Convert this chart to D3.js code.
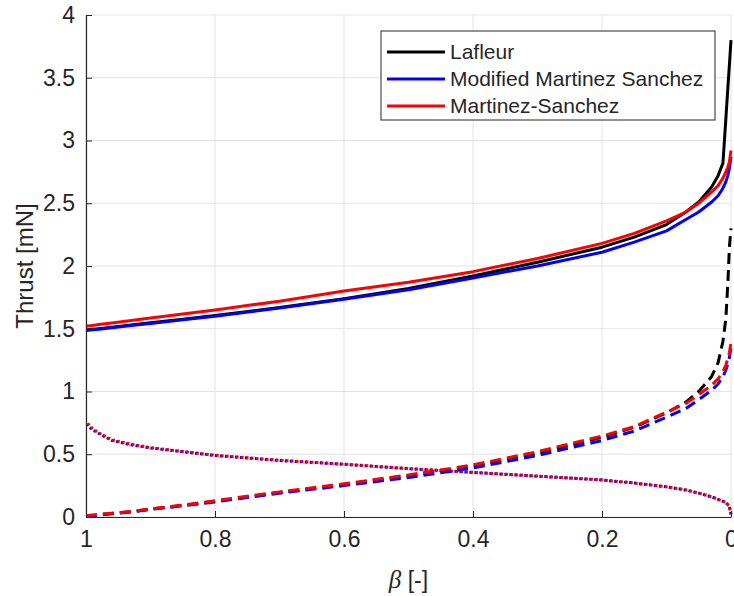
<!DOCTYPE html>
<html>
<head>
<meta charset="utf-8">
<script src="https://cdn.jsdelivr.net/npm/d3@7"></script>
<style>
  html, body { margin: 0; padding: 0; background: #fff; }
  svg { display: block; }
  text { font-family: "Liberation Sans", Arial, Helvetica, sans-serif; fill: #262626; }
</style>
</head>
<body>
<svg id="chart" width="734" height="596"></svg>
<script>
// ---- data ----
const beta = [1, 0.99, 0.98, 0.96, 0.93, 0.9, 0.85, 0.8, 0.7, 0.6, 0.5, 0.4, 0.3, 0.2, 0.15, 0.1, 0.07, 0.05, 0.03, 0.02, 0.0125, 0.008, 0.005, 0.0025, 0];

const lafleurTotal = [1.49, 1.496, 1.501, 1.513, 1.53, 1.547, 1.576, 1.605, 1.67, 1.74, 1.82, 1.92, 2.03, 2.15, 2.23, 2.33, 2.43, 2.51, 2.63, 2.72, 2.82, 3.17, 3.41, 3.60, 3.80];
const modMSTotal   = [1.485, 1.491, 1.496, 1.508, 1.525, 1.542, 1.571, 1.60, 1.665, 1.735, 1.81, 1.905, 2.00, 2.11, 2.19, 2.28, 2.37, 2.43, 2.51, 2.56, 2.62, 2.67, 2.72, 2.78, 2.87];
const msTotal      = [1.52, 1.526, 1.533, 1.546, 1.565, 1.585, 1.617, 1.65, 1.72, 1.80, 1.87, 1.955, 2.06, 2.18, 2.26, 2.36, 2.43, 2.50, 2.59, 2.64, 2.70, 2.75, 2.785, 2.83, 2.92];

const lafleurDashed = [0.005, 0.012, 0.018, 0.028, 0.043, 0.062, 0.092, 0.125, 0.195, 0.26, 0.328, 0.405, 0.508, 0.635, 0.715, 0.83, 0.915, 1.00, 1.12, 1.23, 1.40, 1.58, 1.85, 2.15, 2.30];
const modMSDashed   = [0.005, 0.01, 0.015, 0.025, 0.04, 0.06, 0.09, 0.12, 0.19, 0.25, 0.315, 0.39, 0.49, 0.61, 0.685, 0.795, 0.865, 0.935, 1.01, 1.06, 1.12, 1.17, 1.22, 1.27, 1.35];
const msDashed      = [0.01, 0.015, 0.02, 0.03, 0.045, 0.065, 0.095, 0.13, 0.20, 0.265, 0.335, 0.415, 0.52, 0.645, 0.72, 0.835, 0.905, 0.975, 1.05, 1.10, 1.16, 1.21, 1.26, 1.31, 1.39];

const modMSDotted = [0.74, 0.695, 0.665, 0.61, 0.575, 0.55, 0.52, 0.49, 0.45, 0.42, 0.385, 0.355, 0.325, 0.295, 0.27, 0.24, 0.215, 0.19, 0.16, 0.14, 0.125, 0.115, 0.10, 0.08, 0.02];
const msDotted    = [0.76, 0.705, 0.67, 0.615, 0.58, 0.553, 0.522, 0.492, 0.452, 0.421, 0.386, 0.356, 0.326, 0.296, 0.271, 0.241, 0.216, 0.191, 0.161, 0.141, 0.126, 0.116, 0.10, 0.08, 0.02];

const xTicks = [1, 0.8, 0.6, 0.4, 0.2, 0];
const yTicks = [0, 0.5, 1, 1.5, 2, 2.5, 3, 3.5, 4];
const legendLabels = ["Lafleur", "Modified Martinez Sanchez", "Martinez-Sanchez"];
const colors = ["#000000", "#0000ff", "#ff0000"];

// ---- layout ----
const L = 86, R = 731, T = 15, B = 517;
const svg = d3.select("#chart");
const x = d3.scaleLinear().domain([1, 0]).range([L, R]);
const y = d3.scaleLinear().domain([0, 4]).range([B, T]);

const axisColor = "#262626";
const gridColor = "#e3e3e3";

// grid
const grid = svg.append("g");
grid.selectAll("line.gx").data(xTicks).join("line")
  .attr("x1", d => x(d)).attr("x2", d => x(d)).attr("y1", T).attr("y2", B)
  .attr("stroke", gridColor).attr("stroke-width", 1);
grid.selectAll("line.gy").data(yTicks).join("line")
  .attr("x1", L).attr("x2", R).attr("y1", d => y(d)).attr("y2", d => y(d))
  .attr("stroke", gridColor).attr("stroke-width", 1);

svg.append("clipPath").attr("id", "clip").append("rect")
  .attr("x", L).attr("y", T - 2).attr("width", R - L + 3).attr("height", B - T + 4);

const line = d3.line().x((d, i) => x(beta[i])).y(d => y(d));
const plot = svg.append("g").attr("clip-path", "url(#clip)");

function drawLine(vals, color, dash, offset, width) {
  plot.append("path").datum(vals)
    .attr("d", line)
    .attr("fill", "none")
    .attr("stroke", color)
    .attr("stroke-width", width)
    .attr("stroke-linejoin", "round")
    .attr("stroke-dasharray", dash)
    .attr("stroke-dashoffset", offset || 0);
}

// dotted (components)
drawLine(modMSDotted, colors[1], "2.5,2.5", 0, 3);
drawLine(msDotted, colors[2], "2.5,2.5", 2.5, 3);

// dashed (components)
drawLine(lafleurDashed, colors[0], "11,6", 0, 3);
drawLine(modMSDashed, colors[1], "11,6", 0, 3);
drawLine(msDashed, colors[2], "11,6", 0, 3);

// solid (totals)
drawLine(lafleurTotal, colors[0], null, 0, 3);
drawLine(modMSTotal, colors[1], null, 0, 3);
drawLine(msTotal, colors[2], null, 0, 3);

// axes
const xAxis = d3.axisBottom(x).tickValues(xTicks).tickSizeInner(-6).tickSizeOuter(0)
  .tickPadding(14).tickFormat(d3.format("~g"));
const gx = svg.append("g").attr("transform", `translate(0,${B})`).call(xAxis);
const yAxis = d3.axisLeft(y).tickValues(yTicks).tickSizeInner(-6).tickSizeOuter(0)
  .tickPadding(11).tickFormat(d3.format("~g"));
const gy = svg.append("g").attr("transform", `translate(${L},0)`).call(yAxis);

[gx, gy].forEach(g => {
  g.select(".domain").attr("stroke", axisColor).attr("stroke-width", 1.2);
  g.selectAll(".tick line").attr("stroke", axisColor).attr("stroke-width", 1);
  g.selectAll(".tick text").attr("fill", axisColor)
    .style("font-size", "23px")
    .style("font-family", "'Liberation Sans', Arial, sans-serif");
});
gx.selectAll(".tick text").attr("dy", "0.71em");

// axis labels
svg.append("text")
  .attr("transform", `translate(33,${(T + B) / 2}) rotate(-90)`)
  .attr("text-anchor", "middle")
  .style("font-size", "24px")
  .text("Thrust [mN]");

const xl = svg.append("text")
  .attr("x", (L + R) / 2).attr("y", 588)
  .attr("text-anchor", "middle")
  .style("font-size", "23px");
xl.append("tspan").style("font-family", "'Liberation Serif', 'DejaVu Serif', serif")
  .style("font-style", "italic").style("font-size", "25px").text("β");
xl.append("tspan").text(" [-]");

// legend
const lg = svg.append("g");
lg.append("rect").attr("x", 381).attr("y", 31).attr("width", 334).attr("height", 89)
  .attr("fill", "#fff").attr("stroke", "#262626").attr("stroke-width", 1);
const rows = [52, 79, 106];
legendLabels.forEach((lab, i) => {
  lg.append("line").attr("x1", 387).attr("x2", 445).attr("y1", rows[i]).attr("y2", rows[i])
    .attr("stroke", colors[i]).attr("stroke-width", 3);
  lg.append("text").attr("x", 450).attr("y", rows[i]).attr("dy", "0.35em")
    .style("font-size", "21px").text(lab);
});
</script>
</body>
</html>
